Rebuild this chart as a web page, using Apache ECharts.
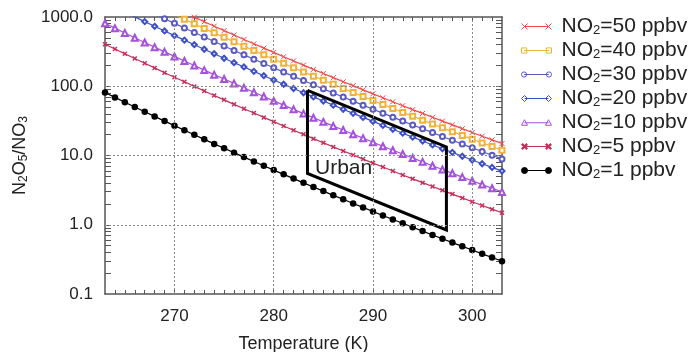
<!DOCTYPE html>
<html>
<head>
<meta charset="utf-8">
<script src="https://cdn.jsdelivr.net/npm/echarts@6/dist/echarts.min.js"></script>
<style>
html,body{margin:0;padding:0;background:#fff;}
#chart{width:692px;height:352px;}
</style>
</head>
<body>
<div id="chart"></div>
<script>
// Temperatures (K)
const temps = [263,264,265,266,267,268,269,270,271,272,273,274,275,276,277,278,279,280,281,282,283,284,285,286,287,288,289,290,291,292,293,294,295,296,297,298,299,300,301,302,303];
// N2O5/NO3 ratios
const no2_50 = [4054,3451,2943,2511,2146,1835,1572,1348,1157,995,856,737,636,549,474,410,355,308,267,232,202,175,153,133,116,102,88.8,77.7,68.1,59.7,52.4,46.0,40.5,35.6,31.4,27.7,24.4,21.5,19.0,16.8,14.9];
const no2_40 = [3243,2761,2354,2008,1716,1468,1258,1078,926,796,684,590,508,439,379,328,284,246,214,185,161,140,122,107,93.0,81.2,71.0,62.2,54.5,47.8,41.9,36.8,32.4,28.5,25.1,22.1,19.5,17.2,15.2,13.5,11.9];
const no2_30 = [2432,2071,1766,1506,1287,1101,943,809,694,597,513,442,381,329,284,246,213,185,160,139,121,105,91.7,79.9,69.8,60.9,53.3,46.6,40.9,35.8,31.4,27.6,24.3,21.4,18.8,16.6,14.6,12.9,11.4,10.1,8.93];
const no2_20 = [1622,1380,1177,1004,858,734,629,539,463,398,342,295,254,219,190,164,142,123,107,92.7,80.6,70.2,61.1,53.3,46.5,40.6,35.5,31.1,27.2,23.9,21.0,18.4,16.2,14.2,12.5,11.1,9.76,8.61,7.61,6.73,5.96];
const no2_10 = [811,690,589,502,429,367,314,270,231,199,171,147,127,110,94.8,82.0,71.0,61.5,53.4,46.4,40.3,35.1,30.6,26.6,23.3,20.3,17.8,15.5,13.6,11.9,10.5,9.20,8.09,7.12,6.27,5.53,4.88,4.31,3.80,3.36,2.98];
const no2_5 = [405,345,294,251,215,184,157,135,116,99.5,85.6,73.7,63.6,54.8,47.4,41.0,35.5,30.8,26.7,23.2,20.2,17.5,15.3,13.3,11.6,10.2,8.88,7.77,6.81,5.97,5.24,4.60,4.05,3.56,3.14,2.77,2.44,2.15,1.90,1.68,1.49];
const no2_1 = [81.1,69.0,58.9,50.2,42.9,36.7,31.4,27.0,23.1,19.9,17.1,14.7,12.7,11.0,9.48,8.20,7.10,6.15,5.34,4.64,4.03,3.51,3.06,2.66,2.33,2.03,1.78,1.55,1.36,1.19,1.05,0.920,0.809,0.712,0.627,0.553,0.488,0.431,0.380,0.336,0.298];
// Urban box
const urbanT = [283.4, 297.4, 297.4, 283.4, 283.4];
const urbanR = [87.5, 13.3, 0.84, 5.5, 87.5];
// Axis ticks / labels
const xLabels = [270, 280, 290, 300];
const yLabels = [0.1, 1, 10, 100, 1000];
const xMinorTicks = [264,265,266,267,268,269,270,271,272,273,274,275,276,277,278,279,280,281,282,283,284,285,286,287,288,289,290,291,292,293,294,295,296,297,298,299,300,301,302];
const yMinorTicks = [0.2,0.3,0.4,0.5,0.6,0.7,0.8,0.9,1,2,3,4,5,6,7,8,9,10,20,30,40,50,60,70,80,90,100,200,300,400,500,600,700,800,900];
const seriesNames = ['NO2=50 ppbv','NO2=40 ppbv','NO2=30 ppbv','NO2=20 ppbv','NO2=10 ppbv','NO2=5 ppbv','NO2=1 ppbv'];

const FONT = 'Liberation Sans, Arial, Helvetica, sans-serif';
const pairs = arr => temps.map((t, i) => [t, arr[i]]);

const xPath = 'path://M0,0 L10,10 M10,0 L0,10';
const starPath = 'path://M0,2 L2,0 L5,3 L8,0 L10,2 L7,5 L10,8 L8,10 L5,7 L2,10 L0,8 L3,5 Z';

// legend icon shapes (line with a marker at both ends), in a 30 x 8 box
const shapeAt = {
  x: o => `M${o},1 L${o+6},7 M${o+6},1 L${o},7`,
  rect: o => `M${o+0.5},1.5 L${o+5.5},1.5 L${o+5.5},6.5 L${o+0.5},6.5 Z`,
  circle: o => `M${o+0.5},4 A2.5,2.5 0 1 1 ${o+5.5},4 A2.5,2.5 0 1 1 ${o+0.5},4 Z`,
  bigcircle: o => `M${o},4 A3,3 0 1 1 ${o+6},4 A3,3 0 1 1 ${o},4 Z`,
  diamond: o => `M${o+3},1 L${o+6},4 L${o+3},7 L${o},4 Z`,
  triangle: o => `M${o+3},1 L${o+6},6.5 L${o},6.5 Z`,
  star: o => `M${o},2.2 L${o+1.2},1 L${o+3},2.8 L${o+4.8},1 L${o+6},2.2 L${o+4.2},4 L${o+6},5.8 L${o+4.8},7 L${o+3},5.2 L${o+1.2},7 L${o},5.8 L${o+1.8},4 Z`
};
const legendIcon = kind => 'path://M3,4 L27,4 ' + shapeAt[kind](0) + ' ' + shapeAt[kind](24);

function lineSeries(name, arr, color, symbol, size, extra) {
  return Object.assign({
    name: name, type: 'line', data: pairs(arr),
    symbol: symbol, symbolSize: size, showSymbol: true,
    lineStyle: { color: color, width: 1.2 },
    itemStyle: { color: color, borderWidth: 1 },
    z: 3, clip: true
  }, extra || {});
}

const colors = ['#f04848', '#f2b23a', '#5a5ac4', '#3d4fc6', '#a451dc', '#c2305a', '#000000'];
const iconKinds = ['x', 'rect', 'circle', 'diamond', 'triangle', 'star', 'bigcircle'];
const iconFilled = [false, false, false, false, false, true, true];

const chart = echarts.init(document.getElementById('chart'), null, { renderer: 'canvas' });
const axisCol = '#555';
const option = {
  animation: false,
  backgroundColor: '#fff',
  textStyle: { fontFamily: FONT },
  grid: { left: 105, right: 190, top: 17, bottom: 58, containLabel: false, outerBoundsMode: 'none' },
  xAxis: [{
    type: 'value', min: 263, max: 303, position: 'bottom',
    name: 'Temperature (K)', nameLocation: 'middle', nameGap: 41,
    nameTextStyle: { fontSize: 18, color: '#222', fontFamily: FONT },
    axisLine: { show: true, lineStyle: { color: axisCol, width: 1.5 } },
    axisTick: { show: true, inside: true, length: 4, customValues: xMinorTicks, lineStyle: { color: axisCol } },
    axisLabel: { customValues: xLabels, fontSize: 17, color: '#222', margin: 14, fontFamily: FONT },
    splitLine: { show: false }
  }, {
    type: 'value', min: 263, max: 303, position: 'top',
    axisLine: { show: true, lineStyle: { color: axisCol, width: 1.5 } },
    axisTick: { show: true, inside: true, length: 4, customValues: xMinorTicks, lineStyle: { color: axisCol } },
    axisLabel: { show: false },
    splitLine: { show: false }
  }],
  yAxis: [{
    type: 'log', logBase: 10, min: 0.1, max: 1000, position: 'left',
    name: 'N{s|2}O{s|5}/NO{s|3}', nameLocation: 'middle', nameGap: 72,
    nameTextStyle: { fontSize: 18, color: '#222', fontFamily: FONT,
      rich: { s: { fontSize: 12, verticalAlign: 'bottom', padding: [8, 0, 0, 0], fontFamily: FONT, color: '#222' } } },
    axisLine: { show: true, lineStyle: { color: axisCol, width: 1.5 } },
    axisTick: { show: true, inside: true, length: 6, customValues: yMinorTicks, lineStyle: { color: axisCol } },
    axisLabel: { customValues: yLabels, fontSize: 17, color: '#222', margin: 12, fontFamily: FONT,
      formatter: v => Number(v).toFixed(1) },
    splitLine: { show: false }
  }, {
    type: 'log', logBase: 10, min: 0.1, max: 1000, position: 'right',
    axisLine: { show: true, lineStyle: { color: axisCol, width: 1.5 } },
    axisTick: { show: true, inside: true, length: 6, customValues: yMinorTicks, lineStyle: { color: axisCol } },
    axisLabel: { show: false },
    splitLine: { show: false }
  }],
  legend: {
    orient: 'vertical', left: 516, top: 11,
    itemWidth: 30, itemHeight: 9, itemGap: 3,
    data: seriesNames.map((n, i) => ({
      name: n,
      icon: legendIcon(iconKinds[i]),
      itemStyle: { color: iconFilled[i] ? colors[i] : '#ffffff', borderColor: colors[i], borderWidth: 1 }
    })),
    textStyle: { fontSize: 21, color: '#222', fontFamily: FONT, lineHeight: 21,
      rich: { g: { width: 5 }, s: { fontSize: 13, verticalAlign: 'bottom', lineHeight: 21, padding: [6, 0, 0, 0] } } },
    formatter: name => '{g| }' + name.replace('NO2', 'NO{s|2}')
  },
  graphic: [{
    type: 'text', left: 315, top: 158, silent: true,
    style: { text: 'Urban', fontSize: 21, fill: '#222', font: '21px ' + FONT }
  }],
  series: [
    {
      name: 'grid', type: 'line', data: [], z: 1, silent: true,
      markLine: {
        silent: true, symbol: ['none', 'none'], label: { show: false },
        lineStyle: { color: '#888', type: [2, 2], width: 1 },
        data: xLabels.map(v => ({ xAxis: v })).concat([1, 10, 100].map(v => ({ yAxis: v })))
      }
    },
    lineSeries(seriesNames[0], no2_50, colors[0], xPath, 5, { itemStyle: { color: colors[0], borderColor: colors[0], borderWidth: 1 } }),
    lineSeries(seriesNames[1], no2_40, colors[1], 'emptyRect', 5),
    lineSeries(seriesNames[2], no2_30, colors[2], 'emptyCircle', 5),
    lineSeries(seriesNames[3], no2_20, colors[3], 'emptyDiamond', 5),
    lineSeries(seriesNames[4], no2_10, colors[4], 'emptyTriangle', 6),
    lineSeries(seriesNames[5], no2_5, colors[5], starPath, 5),
    lineSeries(seriesNames[6], no2_1, colors[6], 'circle', 6.5),
    {
      name: 'Urban', type: 'line', data: urbanT.map((t, i) => [t, urbanR[i]]),
      symbol: 'none', z: 4, silent: true,
      lineStyle: { color: '#000', width: 3, join: 'miter' }
    }
  ]
};
chart.setOption(option);
</script>
</body>
</html>
